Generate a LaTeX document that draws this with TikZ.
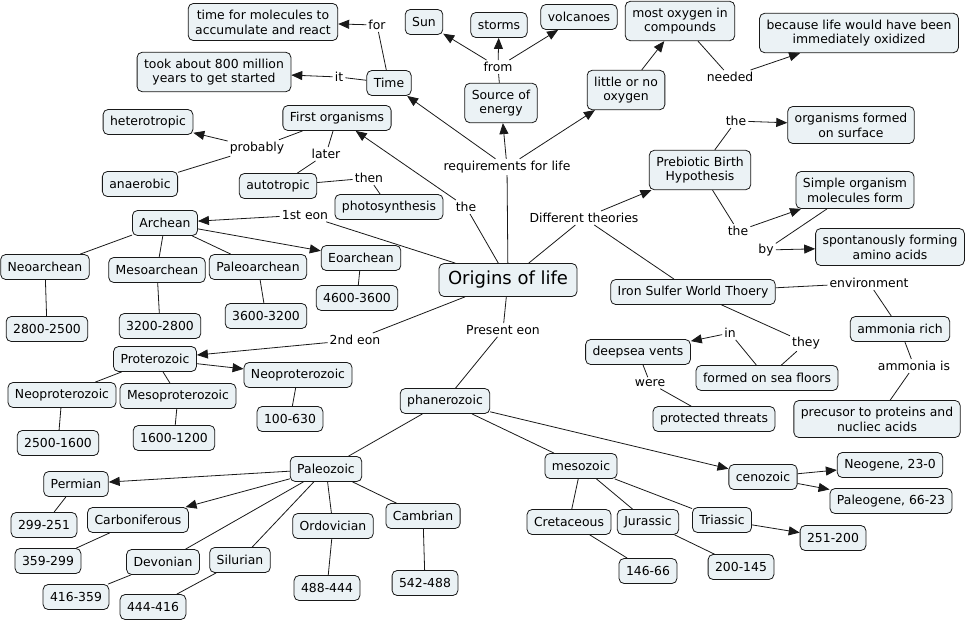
\documentclass[tikz,border=0pt]{standalone}
\usepackage{fontspec}
\setmainfont{DejaVu Sans}
\usetikzlibrary{arrows.meta}
\definecolor{boxfill}{RGB}{235,242,245}
\definecolor{edge}{RGB}{25,25,25}
\begin{document}
\begin{tikzpicture}[x=1pt,y=-1pt,
  box/.style={draw=edge, rounded corners=5pt, fill=boxfill, inner xsep=7pt, inner ysep=6.3pt,
    minimum height=25pt, align=center, font=\fontsize{12.4}{14.8}\selectfont, line width=0.8pt},
  lab/.style={inner sep=2pt, font=\fontsize{12.4}{14.8}\selectfont},
  arr/.style={-{Triangle[length=11pt,width=9pt]}},
  con/.style={draw=edge, line width=0.8pt}
]
\useasboundingbox (0,0) rectangle (968,621);
% ---------- top left
\node[box] (tmol) at (263,22) {time for molecules to\\accumulate and react};
\node[lab] (lfor) at (377,25) {for};
\node[box] (took) at (214,72) {took about 800 million\\years to get started};
\node[lab] (lit) at (339,77) {it};
\node[box] (time) at (389,83) {Time};
\node[box] (sun) at (424,22) {Sun};
\node[box] (storms) at (499,25) {storms};
\node[box] (volc) at (579,17) {volcanoes};
\node[lab] (lfrom) at (498,67) {from};
\node[box] (src) at (501,103) {Source of\\energy};
\node[box] (most) at (680,21) {most oxygen in\\compounds};
\node[box] (little) at (626,90) {little or no\\oxygen};
\node[lab] (lneeded) at (730,77) {needed};
\node[box] (because) at (859,33) {because life would have been\\immediately oxidized};
\node[box] (first) at (337,118) {First organisms};
\node[box] (hetero) at (148,122) {heterotropic};
\node[lab] (lprob) at (257,148) {probably};
\node[box] (anaer) at (140,184) {anaerobic};
\node[lab] (llater) at (326,154) {later};
\node[box] (auto) at (278,186) {autotropic};
\node[lab] (lthen) at (369,178) {then};
\node[box] (photo) at (389,207) {photosynthesis};
\node[lab] (lreq) at (507,167) {requirements for life};
\node[lab] (lthe0) at (466,207) {the};
\node[lab] (ldiff) at (584,218) {Different theories};
% ---------- right theories
\node[box] (preb) at (700,170) {Prebiotic Birth\\Hypothesis};
\node[lab] (lthe1) at (736,121) {the};
\node[box] (surf) at (851,125) {organisms formed\\on surface};
\node[box] (simple) at (855,190) {Simple organism\\molecules form};
\node[lab] (lthe2) at (738,231) {the};
\node[lab] (lby) at (766,250) {by};
\node[box] (spont) at (890,247) {spontanously forming\\amino acids};
% ---------- centre
\node[box, font=\fontsize{18}{20}\selectfont, inner xsep=9pt, minimum height=33pt] (orig) at (508,280) {Origins of life};
\node[lab] (l1st) at (305,215) {1st eon};
\node[lab] (l2nd) at (355,340) {2nd eon};
\node[lab] (lpres) at (503,330) {Present eon};
% ---------- Archean
\node[box] (arch) at (165,223) {Archean};
\node[box] (neoarch) at (45,267) {Neoarchean};
\node[box] (mesoarch) at (157,270) {Mesoarchean};
\node[box] (paleoarch) at (258,267) {Paleoarchean};
\node[box] (eoarch) at (361,258) {Eoarchean};
\node[box] (d4600) at (357,298) {4600-3600};
\node[box] (d3600) at (266,316) {3600-3200};
\node[box] (d3200) at (160,326) {3200-2800};
\node[box] (d2800) at (47,329) {2800-2500};
% ---------- Proterozoic
\node[box] (proter) at (155,359) {Proterozoic};
\node[box] (neoprR) at (298,375) {Neoproterozoic};
\node[box] (d100) at (290,419) {100-630};
\node[box] (neoprL) at (62,395) {Neoproterozoic};
\node[box] (mesopr) at (178,396) {Mesoproterozoic};
\node[box] (d2500) at (58,443) {2500-1600};
\node[box] (d1600) at (174,438) {1600-1200};
% ---------- Phanerozoic
\node[box] (phan) at (445,401) {phanerozoic};
\node[box] (paleo) at (326,469) {Paleozoic};
\node[box] (perm) at (76,484) {Permian};
\node[box] (d299) at (44,525) {299-251};
\node[box] (carb) at (138,520) {Carboniferous};
\node[box] (d359) at (48,561) {359-299};
\node[box] (dev) at (163,562) {Devonian};
\node[box] (d416) at (76,597) {416-359};
\node[box] (sil) at (240,560) {Silurian};
\node[box] (d444) at (153,607) {444-416};
\node[box] (ord) at (333,526) {Ordovician};
\node[box] (d488) at (327,588) {488-444};
\node[box] (camb) at (423,516) {Cambrian};
\node[box] (d542) at (425,583) {542-488};
\node[box] (meso) at (581,466) {mesozoic};
\node[box] (ceno) at (763,477) {cenozoic};
\node[box] (neog) at (890,465) {Neogene, 23-0};
\node[box] (paleog) at (891,501) {Paleogene, 66-23};
\node[box] (cret) at (569,522) {Cretaceous};
\node[box] (jur) at (648,522) {Jurassic};
\node[box] (tri) at (722,520) {Triassic};
\node[box] (d251) at (833,538) {251-200};
\node[box] (d146) at (648,571) {146-66};
\node[box] (d200) at (741,567) {200-145};
% ---------- Iron sulfer
\node[box] (iron) at (693,292) {Iron Sulfer World Thoery};
\node[lab] (lenv) at (869,283) {environment};
\node[box] (amm) at (900,329) {ammonia rich};
\node[lab] (lammis) at (914,366) {ammonia is};
\node[box] (prec) at (877,419) {precusor to proteins and\\nucliec acids};
\node[lab] (lthey) at (806,343) {they};
\node[lab] (lin) at (730,333) {in};
\node[box] (deep) at (638,352) {deepsea vents};
\node[box] (floors) at (767,378) {formed on sea floors};
\node[lab] (lwere) at (650,383) {were};
\node[box] (protth) at (714,419) {protected threats};
% ================= connectors
\draw[con] (orig) -- (lthe0); \draw[con,arr] (lthe0) -- (first);
\draw[con] (orig) -- (lreq);
\draw[con,arr] (lreq) -- (time);
\draw[con,arr] (lreq) -- (src);
\draw[con,arr] (lreq) -- (little);
\draw[con] (src) -- (lfrom);
\draw[con,arr] (lfrom) -- (sun);
\draw[con,arr] (lfrom) -- (storms);
\draw[con,arr] (lfrom) -- (volc);
\draw[con] (time) -- (lfor); \draw[con,arr] (lfor) -- (tmol);
\draw[con] (time) -- (lit); \draw[con,arr] (lit) -- (took);
\draw[con,arr] (little) -- (most);
\draw[con] (most) -- (lneeded); \draw[con,arr] (lneeded) -- (because);
\draw[con] (first) -- (lprob); \draw[con,arr] (lprob) -- (hetero); \draw[con] (lprob) -- (anaer);
\draw[con] (first) -- (llater); \draw[con] (llater) -- (auto);
\draw[con] (auto) -- (lthen); \draw[con] (lthen) -- (photo);
\draw[con] (orig) -- (l1st); \draw[con,arr] (l1st) -- (arch);
\draw[con,arr] (arch) -- (eoarch);
\draw[con] (arch) -- (neoarch);
\draw[con] (arch) -- (mesoarch);
\draw[con] (arch) -- (paleoarch);
\draw[con] (neoarch) -- (d2800);
\draw[con] (mesoarch) -- (d3200);
\draw[con] (paleoarch) -- (d3600);
\draw[con] (eoarch) -- (d4600);
\draw[con] (orig) -- (l2nd); \draw[con,arr] (l2nd) -- (proter);
\draw[con,arr] (proter) -- (neoprR);
\draw[con] (proter) -- (neoprL);
\draw[con] (proter) -- (mesopr);
\draw[con] (neoprR) -- (d100);
\draw[con] (neoprL) -- (d2500);
\draw[con] (mesopr) -- (d1600);
\draw[con] (orig) -- (lpres); \draw[con] (lpres) -- (phan);
\draw[con] (phan) -- (paleo);
\draw[con] (phan) -- (meso);
\draw[con,arr] (phan) -- (ceno);
\draw[con,arr] (paleo) -- (perm);
\draw[con,arr] (paleo) -- (carb);
\draw[con] (paleo) -- (dev);
\draw[con] (paleo) -- (sil);
\draw[con] (paleo) -- (ord);
\draw[con] (paleo) -- (camb);
\draw[con] (perm) -- (d299);
\draw[con] (carb) -- (d359);
\draw[con] (dev) -- (d416);
\draw[con] (sil) -- (d444);
\draw[con] (ord) -- (d488);
\draw[con] (camb) -- (d542);
\draw[con] (meso) -- (cret);
\draw[con] (meso) -- (jur);
\draw[con] (meso) -- (tri);
\draw[con] (cret) -- (d146);
\draw[con] (jur) -- (d200);
\draw[con,arr] (tri) -- (d251);
\draw[con,arr] (ceno) -- (neog);
\draw[con,arr] (ceno) -- (paleog);
\draw[con] (orig) -- (ldiff); \draw[con,arr] (ldiff) -- (preb); \draw[con] (ldiff) -- (iron);
\draw[con] (preb) -- (lthe1); \draw[con,arr] (lthe1) -- (surf);
\draw[con] (preb) -- (lthe2); \draw[con,arr] (lthe2) -- (simple);
\draw[con] (simple) -- (lby); \draw[con,arr] (lby) -- (spont);
\draw[con] (iron) -- (lenv); \draw[con] (lenv) -- (amm);
\draw[con] (amm) -- (lammis); \draw[con] (lammis) -- (prec);
\draw[con] (iron) -- (lthey); \draw[con] (lthey) -- (floors);
\draw[con] (floors) -- (lin); \draw[con,arr] (lin) -- (deep);
\draw[con] (deep) -- (lwere); \draw[con] (lwere) -- (protth);
\end{tikzpicture}
\end{document}
